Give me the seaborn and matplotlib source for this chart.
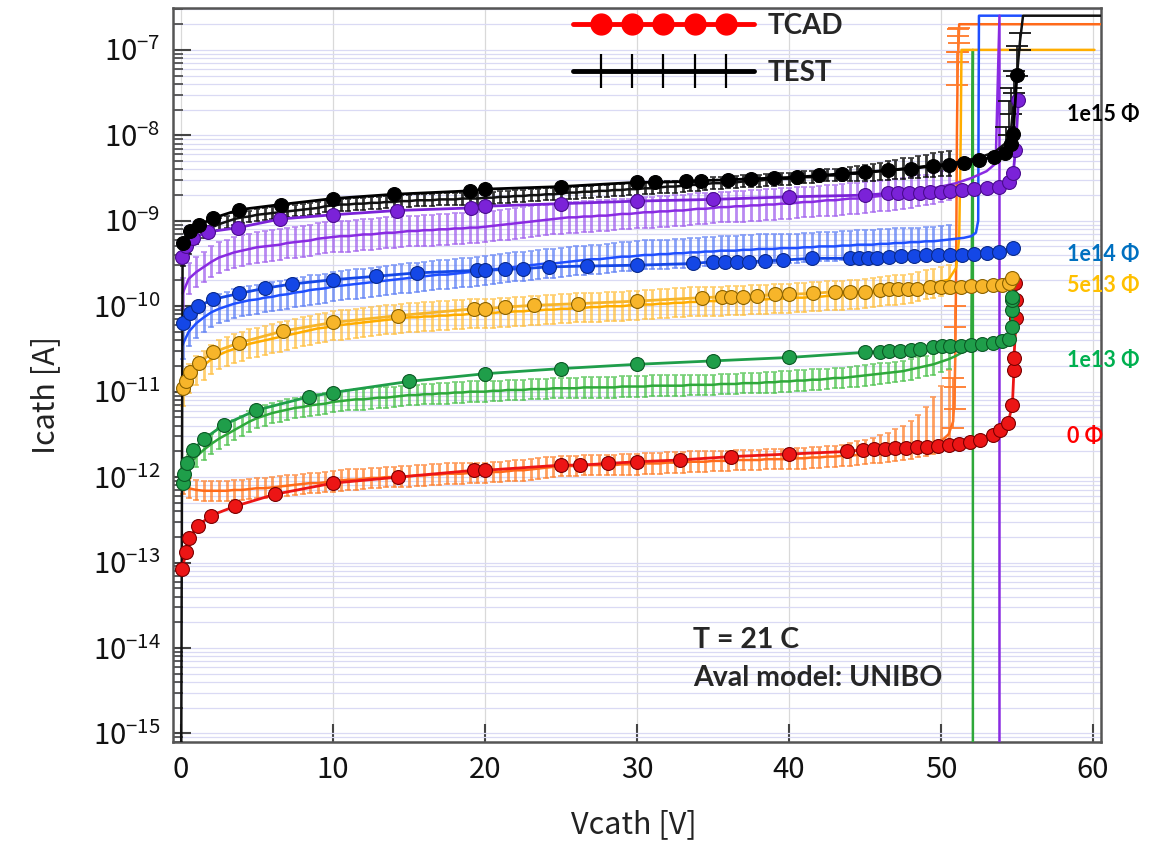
import numpy as np
import pandas as pd
import matplotlib
matplotlib.use("Agg")
import matplotlib.pyplot as plt
import seaborn as sns
from matplotlib.lines import Line2D
from matplotlib.legend_handler import HandlerLine2D, HandlerTuple
from matplotlib.ticker import LogLocator, NullFormatter, MultipleLocator

sns.set_style("ticks")
plt.rcParams['font.family'] = ['Noto Sans CJK JP', 'DejaVu Sans']
plt.rcParams['mathtext.default'] = 'regular'

BOLD = ['Lato', 'DejaVu Sans']

# ---------------- dati: misure (TEST), log10(I) sul passo di tensione ----------------
v_test = [0.1] + list(np.arange(0.5, 50.6, 0.5))

test_0 = [-12.08,
          -12.13, -12.15, -12.16, -12.16, -12.16, -12.16, -12.15, -12.15, -12.14, -12.13,
          -12.13, -12.12, -12.11, -12.10, -12.09, -12.08, -12.07, -12.07, -12.06, -12.05,
          -12.04, -12.03, -12.03, -12.02, -12.01, -12.01, -12.00, -12.00, -11.99, -11.99,
          -11.98, -11.98, -11.97, -11.97, -11.96, -11.96, -11.96, -11.95, -11.95, -11.95,
          -11.94, -11.94, -11.93, -11.92, -11.92, -11.91, -11.90, -11.89, -11.88, -11.87,
          -11.87, -11.87, -11.86, -11.86, -11.86, -11.86, -11.86, -11.85, -11.85, -11.85,
          -11.84, -11.84, -11.84, -11.83, -11.83, -11.83, -11.82, -11.82, -11.82, -11.81,
          -11.81, -11.81, -11.80, -11.80, -11.80, -11.80, -11.79, -11.79, -11.79, -11.79,
          -11.78, -11.78, -11.77, -11.77, -11.76, -11.76, -11.75, -11.75, -11.74, -11.73,
          -11.72, -11.71, -11.70, -11.69, -11.68, -11.67, -11.65, -11.63, -11.61, -11.58,
          -11.50]
tail_v_0 = [50.8, 50.9, 50.95, 51.0, 51.05, 51.1, 51.2, 60.5]
tail_0 = [-11.35, -11.0, -10.5, -9.5, -8.0, -7.2, -6.70, -6.70]
err_lo_0 = [0.12] * 102
err_hi_0 = [0.12] * 88 + [0.15, 0.16, 0.17, 0.18, 0.20, 0.22, 0.25, 0.28, 0.33, 0.38, 0.45, 0.55, 0.65, 0.75]
brk_v_0 = [50.8, 50.9, 50.95, 51.05, 51.1, 51.15, 51.2]
brk_lo_0 = [-11.43, -11.2, -10.95, -7.41, -7.14, -7.02, -6.92]
brk_hi_0 = [-10.84, -10.24, -10.0, -7.02, -6.84, -6.76, -6.74]

test_13 = [-12.00,
           -11.86, -11.76, -11.68, -11.61, -11.55, -11.50, -11.45, -11.40, -11.35, -11.31,
           -11.28, -11.25, -11.23, -11.21, -11.19, -11.18, -11.16, -11.15, -11.14, -11.12,
           -11.11, -11.10, -11.09, -11.09, -11.08, -11.07, -11.07, -11.06, -11.05, -11.04,
           -11.04, -11.03, -11.03, -11.02, -11.02, -11.01, -11.01, -11.00, -11.00, -11.00,
           -10.99, -10.99, -10.98, -10.98, -10.98, -10.97, -10.97, -10.97, -10.96, -10.96,
           -10.96, -10.96, -10.95, -10.95, -10.95, -10.95, -10.95, -10.94, -10.94, -10.94,
           -10.94, -10.93, -10.93, -10.93, -10.93, -10.93, -10.92, -10.92, -10.92, -10.92,
           -10.91, -10.91, -10.91, -10.90, -10.90, -10.90, -10.89, -10.89, -10.88, -10.88,
           -10.87, -10.87, -10.86, -10.86, -10.85, -10.84, -10.84, -10.83, -10.82, -10.81,
           -10.80, -10.79, -10.78, -10.77, -10.76, -10.74, -10.72, -10.70, -10.68, -10.65,
           -10.62]
tail_v_13 = [51.0, 51.5, 52.0, 52.1, 52.1]
tail_13 = [-10.58, -10.53, -10.45, -7.0, -16.0]
err_13 = 0.12

test_5e13 = [-11.00,
             -10.85, -10.75, -10.69, -10.62, -10.57, -10.53, -10.50, -10.47, -10.44, -10.42,
             -10.40, -10.38, -10.36, -10.34, -10.32, -10.30, -10.28, -10.26, -10.25, -10.23,
             -10.22, -10.21, -10.20, -10.19, -10.18, -10.17, -10.16, -10.15, -10.14, -10.13,
             -10.13, -10.12, -10.12, -10.11, -10.11, -10.10, -10.10, -10.09, -10.09, -10.08,
             -10.08, -10.07, -10.07, -10.06, -10.06, -10.05, -10.05, -10.04, -10.04, -10.03,
             -10.03, -10.02, -10.02, -10.01, -10.01, -10.00, -10.00, -10.00, -9.99, -9.99,
             -9.98, -9.98, -9.97, -9.97, -9.96, -9.96, -9.95, -9.95, -9.94, -9.94,
             -9.94, -9.93, -9.93, -9.93, -9.92, -9.92, -9.92, -9.91, -9.91, -9.91,
             -9.90, -9.90, -9.89, -9.89, -9.88, -9.88, -9.87, -9.86, -9.86, -9.85,
             -9.84, -9.83, -9.82, -9.81, -9.80, -9.79, -9.77, -9.75, -9.73, -9.71,
             -9.69]
tail_v_5e13 = [51.0, 51.2, 51.3, 51.35, 60.1]
tail_5e13 = [-9.55, -9.2, -8.0, -7.0, -7.0]
err_5e13 = 0.17

test_14 = [-10.45,
           -10.30, -10.20, -10.13, -10.07, -10.03, -10.00, -9.97, -9.95, -9.93, -9.92,
           -9.90, -9.89, -9.87, -9.86, -9.84, -9.83, -9.81, -9.80, -9.79, -9.77,
           -9.76, -9.75, -9.74, -9.73, -9.72, -9.71, -9.70, -9.69, -9.68, -9.67,
           -9.66, -9.65, -9.64, -9.63, -9.63, -9.62, -9.61, -9.60, -9.59, -9.58,
           -9.57, -9.56, -9.55, -9.54, -9.53, -9.52, -9.51, -9.50, -9.50, -9.49,
           -9.48, -9.47, -9.46, -9.45, -9.45, -9.44, -9.43, -9.42, -9.42, -9.41,
           -9.40, -9.40, -9.39, -9.39, -9.38, -9.38, -9.37, -9.37, -9.36, -9.36,
           -9.35, -9.35, -9.35, -9.34, -9.34, -9.33, -9.33, -9.33, -9.32, -9.32,
           -9.32, -9.31, -9.31, -9.30, -9.30, -9.30, -9.29, -9.29, -9.28, -9.28,
           -9.28, -9.27, -9.27, -9.26, -9.26, -9.25, -9.25, -9.24, -9.24, -9.23,
           -9.22]
tail_v_14 = [51.0, 51.5, 52.0, 52.3, 52.45, 52.5, 55.3]
tail_14 = [-9.21, -9.20, -9.18, -9.14, -9.0, -6.6, -6.6]
err_14 = 0.17

test_p = [-9.85,
          -9.68, -9.60, -9.54, -9.48, -9.43, -9.40, -9.37, -9.35, -9.33, -9.31,
          -9.30, -9.29, -9.28, -9.26, -9.25, -9.24, -9.23, -9.21, -9.20, -9.19,
          -9.18, -9.18, -9.17, -9.16, -9.16, -9.15, -9.14, -9.14, -9.13, -9.12,
          -9.12, -9.11, -9.11, -9.10, -9.10, -9.09, -9.09, -9.08, -9.08, -9.07,
          -9.06, -9.05, -9.04, -9.03, -9.02, -9.01, -9.00, -8.99, -8.98, -8.97,
          -8.96, -8.96, -8.95, -8.95, -8.94, -8.94, -8.93, -8.92, -8.92, -8.91,
          -8.90, -8.90, -8.89, -8.89, -8.88, -8.88, -8.87, -8.86, -8.86, -8.85,
          -8.84, -8.84, -8.83, -8.83, -8.82, -8.82, -8.81, -8.81, -8.80, -8.80,
          -8.79, -8.78, -8.78, -8.77, -8.76, -8.76, -8.75, -8.74, -8.74, -8.73,
          -8.72, -8.71, -8.70, -8.69, -8.68, -8.67, -8.65, -8.64, -8.62, -8.60,
          -8.58]
tail_v_p = [51.0, 52.0, 53.0, 53.6, 53.85, 53.85]
tail_p = [-8.56, -8.50, -8.42, -8.33, -6.6, -16.0]
err_p = 0.18

test_15 = [-9.46,
           -9.32, -9.20, -9.13, -9.08, -9.04, -9.01, -8.98, -8.96, -8.95, -8.93,
           -8.92, -8.91, -8.90, -8.89, -8.88, -8.87, -8.86, -8.85, -8.83, -8.82,
           -8.81, -8.81, -8.80, -8.80, -8.79, -8.79, -8.78, -8.78, -8.77, -8.77,
           -8.76, -8.76, -8.76, -8.75, -8.75, -8.75, -8.74, -8.74, -8.74, -8.73,
           -8.73, -8.72, -8.72, -8.71, -8.71, -8.70, -8.70, -8.69, -8.69, -8.68,
           -8.67, -8.67, -8.66, -8.66, -8.65, -8.65, -8.64, -8.64, -8.63, -8.63,
           -8.62, -8.62, -8.61, -8.60, -8.60, -8.59, -8.58, -8.58, -8.57, -8.56,
           -8.56, -8.55, -8.55, -8.54, -8.53, -8.53, -8.52, -8.52, -8.51, -8.51,
           -8.50, -8.49, -8.49, -8.48, -8.47, -8.47, -8.46, -8.45, -8.45, -8.44,
           -8.43, -8.42, -8.41, -8.40, -8.39, -8.38, -8.37, -8.36, -8.35, -8.34,
           -8.33]
head_v_15 = [0.0]
head_15 = [-16.0]
tail_v_15 = [51.5, 52.5, 53.5, 54.2, 54.6, 54.8, 55.0, 55.2, 55.4, 60.5]
tail_15 = [-8.30, -8.26, -8.20, -8.10, -7.95, -7.6, -7.3, -6.9, -6.6, -6.6]
err_15 = [0.07] * 88 + [0.08, 0.09, 0.09, 0.10, 0.10, 0.11, 0.11, 0.12, 0.12, 0.13, 0.13, 0.14, 0.14, 0.15]
brk_v_15 = [54.3, 54.5, 54.6, 54.8, 55.0, 55.2]
brk_lo_15 = [-8.2, -8.0, -7.75, -7.5, -7.3, -7.0]
brk_hi_15 = [-7.9, -7.6, -7.45, -7.25, -6.96, -6.8]

# ---------------- dati: simulazioni (TCAD), log10(I) ----------------
tcad_v_0 = [0.09, 0.31, 0.55, 1.1, 1.97, 3.57, 6.2, 10.0, 14.3, 19.3, 20.0, 25.0, 26.25, 28.1, 30.0,
            32.8, 36.2, 40.0, 43.8, 44.9, 45.6, 46.3, 47.0, 47.7, 48.4, 49.1, 49.8, 50.5, 51.2,
            51.9, 52.6, 53.4, 53.9, 54.4, 54.7, 54.8, 54.8, 54.95, 54.95, 54.9]
tcad_0 = [-13.08, -12.88, -12.71, -12.57, -12.45, -12.34, -12.20, -12.07, -12.00, -11.92, -11.92,
          -11.86, -11.86, -11.84, -11.82, -11.80, -11.76, -11.73, -11.70, -11.68, -11.67, -11.67,
          -11.66, -11.66, -11.65, -11.65, -11.64, -11.63, -11.61, -11.59, -11.56, -11.51, -11.45,
          -11.37, -11.16, -10.75, -10.61, -10.14, -9.93, -9.73]

tcad_v_13 = [0.1, 0.2, 0.4, 0.8, 1.53, 2.8, 4.9, 8.4, 10.0, 15.0, 20.0, 25.0, 30.0, 35.0, 40.0,
             45.0, 46.0, 46.6, 47.3, 48.0, 48.6, 49.5, 50.1, 50.6, 51.3, 52.0, 52.7, 53.4, 54.0,
             54.5, 54.7, 54.7, 54.65, 54.65]
tcad_13 = [-12.07, -11.96, -11.83, -11.68, -11.55, -11.39, -11.22, -11.06, -11.01, -10.88, -10.79,
           -10.73, -10.68, -10.64, -10.60, -10.54, -10.53, -10.52, -10.52, -10.51, -10.50, -10.48,
           -10.47, -10.47, -10.46, -10.45, -10.44, -10.43, -10.41, -10.38, -10.24, -10.04, -9.93,
           -9.89]

tcad_v_5e13 = [0.1, 0.33, 0.6, 1.18, 2.1, 3.8, 6.7, 10.0, 14.3, 19.3, 20.0, 21.3, 23.2, 26.1, 30.0,
               34.3, 35.6, 36.2, 37.0, 37.9, 39.1, 40.0, 41.6, 43.0, 44.0, 45.0, 46.0, 46.6, 47.2,
               47.8, 48.4, 49.3, 50.0, 50.6, 51.3, 52.0, 52.7, 53.4, 54.0, 54.5, 54.7]
tcad_5e13 = [-10.96, -10.87, -10.77, -10.66, -10.54, -10.43, -10.29, -10.19, -10.11, -10.03, -10.03,
             -10.01, -9.99, -9.97, -9.94, -9.90, -9.89, -9.89, -9.89, -9.88, -9.86, -9.86, -9.85,
             -9.83, -9.83, -9.83, -9.81, -9.80, -9.80, -9.80, -9.80, -9.78, -9.77, -9.77, -9.77,
             -9.76, -9.76, -9.75, -9.75, -9.73, -9.67]

tcad_v_14 = [0.15, 0.6, 1.14, 2.1, 3.84, 5.5, 7.3, 10.0, 12.8, 15.5, 19.5, 20.0, 21.3, 22.5, 24.2,
             26.7, 30.0, 33.7, 35.0, 35.8, 36.6, 37.4, 38.4, 39.6, 41.5, 44.0, 44.6, 45.2, 45.8,
             46.6, 47.4, 48.2, 49.0, 49.8, 50.6, 51.4, 52.2, 53.0, 53.8, 54.76]
tcad_14 = [-10.20, -10.08, -10.00, -9.92, -9.85, -9.79, -9.74, -9.69, -9.65, -9.61, -9.58, -9.58,
           -9.57, -9.56, -9.54, -9.53, -9.52, -9.50, -9.48, -9.48, -9.48, -9.48, -9.47, -9.46,
           -9.44, -9.44, -9.44, -9.43, -9.43, -9.42, -9.41, -9.41, -9.40, -9.40, -9.40, -9.40,
           -9.39, -9.38, -9.36, -9.32]

tcad_v_p = [0.05, 0.3, 0.8, 1.8, 3.77, 6.5, 10.0, 14.2, 19.1, 20.0, 25.0, 30.0, 35.0, 40.0, 45.0,
            46.5, 47.2, 47.9, 48.6, 49.3, 50.0, 50.6, 51.4, 52.2, 53.0, 53.8, 54.5, 54.76, 54.9, 55.1]
tcad_p = [-9.42, -9.30, -9.20, -9.13, -9.08, -8.98, -8.93, -8.88, -8.85, -8.83, -8.80, -8.77, -8.75,
          -8.72, -8.70, -8.68, -8.68, -8.67, -8.67, -8.66, -8.66, -8.65, -8.64, -8.63, -8.62, -8.60,
          -8.55, -8.44, -8.17, -7.59]

tcad_v_15 = [0.1, 0.6, 1.18, 2.1, 3.84, 6.56, 10.0, 14.0, 19.0, 20.0, 25.0, 30.0, 31.2, 33.2, 34.2,
             36.0, 37.5, 39.0, 40.5, 42.0, 43.5, 45.0, 46.5, 48.0, 49.5, 50.5, 51.5, 52.5, 53.5,
             54.2, 54.6, 54.76, 55.0]
tcad_15 = [-9.26, -9.12, -9.05, -8.97, -8.87, -8.81, -8.74, -8.69, -8.65, -8.63, -8.60, -8.55, -8.55,
           -8.54, -8.53, -8.52, -8.51, -8.50, -8.49, -8.47, -8.45, -8.43, -8.41, -8.39, -8.36, -8.35,
           -8.32, -8.29, -8.25, -8.21, -8.10, -7.98, -7.29]

fig = plt.figure(figsize=(11.66, 8.41), dpi=100)
ax = fig.add_axes([173 / 1166, 1 - 742 / 841, 928 / 1166, 734 / 841])
ax.set_yscale('log')


def draw_test(v, logi, lo, hi, tail_v, tail_l, line_c, bar_c, head_v=(), head_l=(), alpha=0.75):
    assert len(v) == len(logi)
    i = 10 ** np.array(logi)
    lo = np.broadcast_to(np.array(lo, dtype=float), i.shape)
    hi = np.broadcast_to(np.array(hi, dtype=float), i.shape)
    ax.errorbar(v, i, yerr=[i - i * 10 ** -lo, i * 10 ** hi - i], fmt='none', ecolor=bar_c,
                elinewidth=2.0, capsize=2.5, capthick=1.2, alpha=alpha, zorder=2)
    df = pd.DataFrame({'V': list(head_v) + list(v) + list(tail_v),
                       'I': 10 ** np.array(list(head_l) + list(logi) + list(tail_l))})
    sns.lineplot(data=df, x='V', y='I', sort=False, estimator=None, color=line_c, lw=1.8,
                 ax=ax, zorder=3)


def draw_breakdown(v, lo, hi, color):
    lo_i = 10 ** np.array(lo)
    hi_i = 10 ** np.array(hi)
    mid = np.sqrt(lo_i * hi_i)
    ax.errorbar(v, mid, yerr=[mid - lo_i, hi_i - mid], fmt='none', ecolor=color,
                elinewidth=1.2, capsize=8, capthick=1.3, zorder=3)


def draw_tcad(v, logi, face, edge):
    df = pd.DataFrame({'V': v, 'I': 10 ** np.array(logi)})
    sns.lineplot(data=df, x='V', y='I', sort=False, estimator=None, color=face, lw=2,
                 marker='o', markersize=10, markerfacecolor=face, markeredgecolor=edge,
                 markeredgewidth=0.8, ax=ax, zorder=5)


# TEST (misure con barre d'errore)
draw_test(v_test, test_0, err_lo_0, err_hi_0, tail_v_0, tail_0, '#ff6a1a', '#ff7f2a')
draw_breakdown(brk_v_0, brk_lo_0, brk_hi_0, '#ff7a2a')
draw_test(v_test, test_13, err_13, err_13, tail_v_13, tail_13, '#2ea83a', '#4cc24c')
draw_test(v_test, test_5e13, err_5e13, err_5e13, tail_v_5e13, tail_5e13, '#ffad00', '#ffc040')
draw_test(v_test, test_14, err_14, err_14, tail_v_14, tail_14, '#1f4fff', '#5f80f5')
draw_test(v_test, test_p, err_p, err_p, tail_v_p, tail_p, '#8a2be2', '#a262ee')
draw_test(v_test, test_15, err_15, err_15, tail_v_15, tail_15, '#111111', '#111111',
          head_v_15, head_15, alpha=0.85)
draw_breakdown(brk_v_15, brk_lo_15, brk_hi_15, '#111111')

# TCAD (simulazioni)
draw_tcad(tcad_v_0, tcad_0, '#ec1515', '#7a0000')
draw_tcad(tcad_v_13, tcad_13, '#1f9e4a', '#0b5a25')
draw_tcad(tcad_v_5e13, tcad_5e13, '#f7b52a', '#8a6200')
draw_tcad(tcad_v_14, tcad_14, '#1447e6', '#0a2a8a')
draw_tcad(tcad_v_p, tcad_p, '#7b22d8', '#4a0c8f')
draw_tcad(tcad_v_15, tcad_15, '#000000', '#000000')

# assi
ax.set_xlim(-0.53, 60.53)
ax.set_ylim(10 ** -15.1, 10 ** -6.51)
ax.xaxis.set_major_locator(MultipleLocator(10))
ax.yaxis.set_major_locator(LogLocator(base=10, numticks=30))
ax.yaxis.set_minor_locator(LogLocator(base=10, subs=np.arange(2, 10), numticks=30))
ax.yaxis.set_minor_formatter(NullFormatter())
ax.tick_params(axis='both', which='major', direction='in', length=13, width=1.5,
               color='#444444', labelsize=21, labelcolor='#111111')
ax.tick_params(axis='y', which='major', pad=9)
ax.tick_params(axis='x', which='major', pad=9)
ax.tick_params(axis='y', which='minor', direction='in', length=7, width=1.2, color='#444444')
ax.tick_params(axis='x', which='minor', bottom=False)
ax.grid(True, which='both', axis='y', color='#dadaf4', lw=0.9)
ax.grid(True, which='major', axis='x', color='#d9d9d9', lw=0.9)
ax.set_axisbelow(True)
for sp in ax.spines.values():
    sp.set_color('#555555')
    sp.set_linewidth(1.8)

ax.set_xlabel('Vcath [V]', fontsize=22, color='#222222')
ax.set_ylabel('Icath [A]', fontsize=22, color='#222222')
ax.xaxis.set_label_coords(0.497, -0.091)
ax.yaxis.set_label_coords(-0.120, 0.473)

# legenda
h_tcad_line = Line2D([], [], color='#ff0000', lw=3.5)
h_tcad_mk = Line2D([], [], ls='none', marker='o', ms=15, mfc='#ff0000', mec='#ff0000')
h_test_line = Line2D([], [], color='black', lw=3.5)
h_test_mk = Line2D([], [], ls='none', marker='|', ms=24, mew=1.6, color='black')
ax.legend([(h_tcad_line, h_tcad_mk), (h_test_line, h_test_mk)], ['TCAD', 'TEST'],
          handler_map={tuple: HandlerTuple(ndivide=1),
                       h_tcad_line: HandlerLine2D(numpoints=2, marker_pad=0),
                       h_test_line: HandlerLine2D(numpoints=2, marker_pad=0),
                       h_tcad_mk: HandlerLine2D(numpoints=5, marker_pad=1.0),
                       h_test_mk: HandlerLine2D(numpoints=5, marker_pad=1.0)},
          loc='upper left', bbox_to_anchor=(573 / 1166, 1 - 13 / 841),
          bbox_transform=fig.transFigure, frameon=False, borderpad=0, borderaxespad=0,
          handlelength=6.5, handletextpad=0.5, labelspacing=0.75,
          prop={'family': BOLD, 'weight': 'bold', 'size': 20})

# etichette fluenze
labels = [('1e15 Φ', -7.76, '#000000'), ('1e14 Φ', -9.40, '#0070c0'),
          ('5e13 Φ', -9.76, '#ffc000'), ('1e13 Φ', -10.64, '#00b050'), ('0 Φ', -11.53, '#ff0000')]
for txt, ly, c in labels:
    ax.text(58.3, 10 ** ly, txt, color=c, fontsize=15.5, fontweight='bold', family=BOLD,
            ha='left', va='center', clip_on=False)

ax.text(33.7, 10 ** -13.91, 'T = 21 C', fontsize=20.5, fontweight='bold', family=BOLD,
        ha='left', va='center')
ax.text(33.7, 10 ** -14.35, 'Aval model: UNIBO', fontsize=20.5, fontweight='bold', family=BOLD,
        ha='left', va='center')

fig.savefig('out.png', dpi=100)
